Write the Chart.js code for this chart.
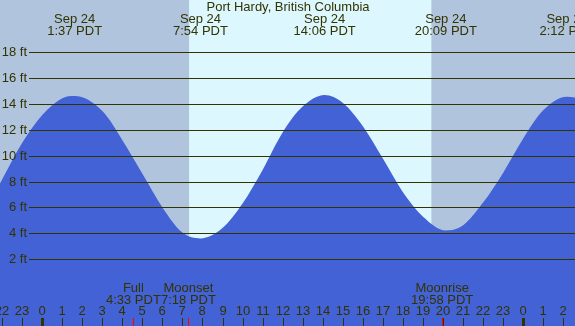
<!DOCTYPE html>
<html>
<head>
<meta charset="utf-8">
<title>Port Hardy tides</title>
<script src="https://cdn.jsdelivr.net/npm/chart.js@4/dist/chart.umd.min.js"></script>
<style>
  html, body { margin: 0; padding: 0; overflow: hidden; background: #fff; }
  canvas { display: block; }
</style>
</head>
<body>
<canvas id="tide-chart" width="575" height="326"></canvas>
<script>
// tide height (ft), hours from midnight Sep 24 PDT
const tideHours = [-2.11, -1, 0, 1, 1.62, 3, 4, 5, 6, 7, 7.9, 9, 10, 11, 12, 13, 14.1, 15, 16, 17, 18, 19, 20.15, 21, 22, 23, 24, 25, 26.2, 26.6];
const tideFeet = [7.85, 11.0, 13.15, 14.45, 14.62, 13.45, 11.2, 8.6, 6.0, 4.05, 3.6, 4.4, 6.3, 8.9, 11.8, 13.8, 14.7, 14.1, 12.3, 9.8, 7.2, 5.3, 4.22, 4.6, 6.35, 8.65, 11.3, 13.5, 14.57, 14.5];

const gridFeet = [2, 4, 6, 8, 10, 12, 14, 16, 18];

const hourTicks = [-2, -1, 0, 1, 2, 3, 4, 5, 6, 7, 8, 9, 10, 11, 12, 13, 14, 15, 16, 17, 18, 19, 20, 21, 22, 23, 24, 25, 26];
const hourLabels = ['22', '23', '0', '1', '2', '3', '4', '5', '6', '7', '8', '9', '10', '11', '12', '13', '14', '15', '16', '17', '18', '19', '20', '21', '22', '23', '0', '1', '2'];

const tideEventHours = [1.617, 7.9, 14.1, 20.15, 26.2];
const tideEventDates = ['Sep 24', 'Sep 24', 'Sep 24', 'Sep 24', 'Sep 25'];
const tideEventTimes = ['1:37 PDT', '7:54 PDT', '14:06 PDT', '20:09 PDT', '2:12 PDT'];

const moonHours = [4.55, 7.3, 19.967];
const moonNames = ['Full', 'Moonset', 'Moonrise'];
const moonTimes = ['4:33 PDT', '7:18 PDT', '19:58 PDT'];

const sunriseHour = 7.33;
const sunsetHour = 19.43;

const textColor = '#333300';
const font = '13px "Liberation Sans", Arial, sans-serif';

const tideDecor = {
    id: 'tideDecor',
    beforeDatasetsDraw(chart) {
        const { ctx, chartArea, scales } = chart;
        const x = scales.x;
        ctx.save();
        ctx.fillStyle = '#b0c4de';
        ctx.fillRect(chartArea.left, chartArea.top, chartArea.width, chartArea.height);
        const x0 = x.getPixelForValue(sunriseHour);
        const x1 = x.getPixelForValue(sunsetHour);
        ctx.fillStyle = '#ddf7ff';
        ctx.fillRect(x0, chartArea.top, x1 - x0, chartArea.height);
        ctx.restore();
    },
    afterDatasetsDraw(chart) {
        const { ctx, chartArea, scales } = chart;
        const x = scales.x, y = scales.y;
        ctx.save();
        ctx.font = font;
        ctx.fillStyle = textColor;
        ctx.strokeStyle = textColor;
        ctx.lineWidth = 1;

        // horizontal lines + ft labels
        ctx.textAlign = 'right';
        ctx.textBaseline = 'middle';
        gridFeet.forEach(ft => {
            const py = Math.round(y.getPixelForValue(ft)) + 0.5;
            ctx.beginPath();
            ctx.moveTo(29, py);
            ctx.lineTo(chartArea.right, py);
            ctx.stroke();
            ctx.fillText(ft + ' ft', 27, py);
        });

        // hour labels and tick marks along the bottom
        ctx.textAlign = 'center';
        hourTicks.forEach((h, i) => {
            const px = Math.round(x.getPixelForValue(h));
            ctx.fillText(hourLabels[i], px, 311);
            if (hourLabels[i] === '0') {
                ctx.fillRect(px - 1, 318, 3, 8);
            } else {
                ctx.fillRect(px, 318, 1, 8);
            }
        });

        // moon events
        moonHours.forEach((h, i) => {
            const px = x.getPixelForValue(h);
            ctx.fillStyle = '#ff0000';
            ctx.fillRect(Math.round(px), 318, 1, 8);
            ctx.fillStyle = textColor;
            ctx.fillText(moonNames[i], px, 288);
            ctx.fillText(moonTimes[i], px, 300);
        });

        // high / low tide times
        tideEventHours.forEach((h, i) => {
            const px = x.getPixelForValue(h);
            ctx.fillText(tideEventDates[i], px, 19);
            ctx.fillText(tideEventTimes[i], px, 31);
        });

        ctx.fillText('Port Hardy, British Columbia', 288, 7);
        ctx.restore();
    }
};

new Chart(document.getElementById('tide-chart'), {
    type: 'line',
    data: {
        datasets: [{
            label: 'Tide',
            data: tideHours.map((h, i) => ({ x: h, y: tideFeet[i] })),
            fill: 'start',
            backgroundColor: '#4262d6',
            borderWidth: 0,
            pointRadius: 0,
            cubicInterpolationMode: 'monotone'
        }]
    },
    options: {
        responsive: false,
        animation: false,
        devicePixelRatio: 1,
        layout: { padding: 0 },
        scales: {
            x: { type: 'linear', min: -2.11, max: 26.6, display: false },
            y: { min: -3.18, max: 22.05, display: false }
        },
        plugins: {
            legend: { display: false },
            tooltip: { enabled: false }
        }
    },
    plugins: [tideDecor]
});
</script>
</body>
</html>
